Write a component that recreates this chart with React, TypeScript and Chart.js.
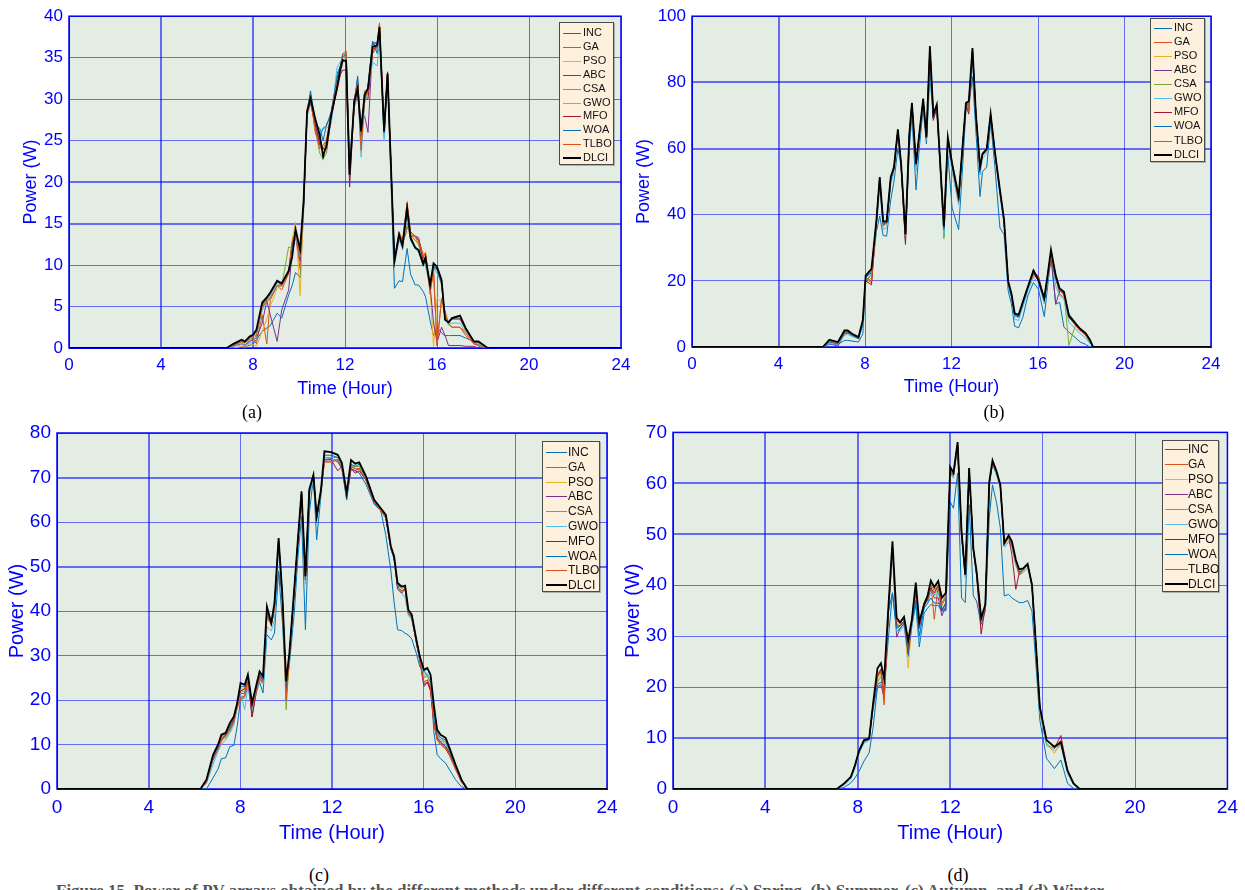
import React, { useEffect, useRef } from 'react';
import { Chart, registerables } from 'chart.js';

Chart.register(...registerables);

// ---------- shared ----------
const methodNames = ['INC', 'GA', 'PSO', 'ABC', 'CSA', 'GWO', 'MFO', 'WOA', 'TLBO', 'DLCI'];
const methodColors = ['#0072BD', '#D95319', '#EDB120', '#7E2F8E', '#77AC30', '#4DBEEE', '#A2142F', '#0072BD', '#D95319', '#000000'];
const xTickStep = 4;
const xTitle = 'Time (Hour)';
const yTitle = 'Power (W)';

// ---------- panel (a) ----------
const hoursA = [0, 6.85, 7.15, 7.5, 7.65, 7.85, 8.0, 8.15, 8.4, 8.6, 8.75, 9.05, 9.25, 9.55, 9.7, 9.85, 10.05, 10.2, 10.35, 10.5, 10.7, 10.9, 11.05, 11.2, 11.4, 11.65, 11.8, 11.9, 12.05, 12.2, 12.4, 12.55, 12.7, 12.85, 13.0, 13.2, 13.4, 13.5, 13.7, 13.85, 14.15, 14.35, 14.5, 14.7, 14.85, 15.05, 15.2, 15.4, 15.5, 15.7, 15.85, 16.0, 16.2, 16.35, 16.5, 16.65, 17.0, 17.25, 17.6, 17.8, 18.2, 24];
const incA = [0,0,0,0.1,0.2,0.3,0.5,1.0,2.0,2.4, 2.7,4.2,3.6,6.4,7.5,9.1,8.5,16.5,28.0,30.5, 27.0,26.5,25.0,27.0,28.0,33.0,34.0,35.0,35.2,21.5, 29.0,32.8,24.5,30.0,31.5,37.0,35.5,38.5,25.5,33.0, 7.2,8.1,8.0,12.0,8.9,7.6,7.6,6.8,6.2,3.3, 1.5,2.5,1.8,1.5,1.5,1.5,1.5,1.2,0.8,0.2, 0,0];
const gaA = [0,0,0.3,0.7,0.3,1.0,1.2,0.5,4.0,0.5, 5.8,7.5,7.0,9.0,12.5,13.5,9.5,17.0,28.8,30.5, 26.0,24.5,24.0,25.0,28.5,32.0,34.0,35.5,35.8,21.0, 30.0,32.0,24.0,31.0,31.0,35.5,36.8,39.2,26.5,33.2, 10.8,14.0,13.0,17.5,14.0,13.5,12.5,11.0,11.5,7.0, 9.0,0.3,6.0,4.0,2.8,2.5,2.5,1.5,0.5,0.3, 0,0];
const psoA = [0,0,0,0.2,0.1,0.5,0.4,0.2,2.0,3.5, 5.0,7.2,7.5,9.5,13.0,15.2,6.3,17.5,28.2,30.8, 26.5,25.0,24.0,25.5,28.0,32.5,33.5,35.0,35.2,22.0, 29.5,30.5,25.0,29.5,30.5,35.8,36.0,38.8,26.0,32.8, 10.2,13.5,12.8,14.0,14.0,13.0,12.8,11.5,10.0,7.0, 0.2,6.0,5.5,3.8,2.8,2.5,2.5,2.0,0.8,0.3, 0,0];
const abcA = [0,0,0.2,0.5,0.3,0.8,1.0,1.2,3.0,5.7, 4.0,0.8,4.6,7.0,11.5,13.5,10.5,17.0,28.0,29.5, 27.0,25.0,24.0,24.0,27.5,31.5,33.0,34.5,34.8,21.5, 29.0,30.5,27.5,28.0,26.0,36.5,36.8,38.5,26.5,33.0, 10.5,13.0,12.5,14.5,14.0,13.5,13.3,11.0,10.5,7.5, 3.0,0.7,2.5,1.5,0.3,0.3,0.3,0.2,0.2,0, 0,0];
const csaA = [0,0,0.3,0.8,0.6,1.2,1.4,1.8,5.0,5.8, 6.2,7.5,7.5,12.2,12.0,14.0,11.5,17.5,28.5,30.5, 26.5,23.5,22.8,23.5,28.0,31.5,33.2,34.5,34.5,21.5, 29.5,31.0,26.0,30.8,31.0,35.8,36.2,38.2,26.0,33.0, 10.5,13.5,12.5,14.8,13.5,13.0,12.5,10.5,10.5,7.5, 9.5,9.5,7.5,4.0,3.0,3.5,3.5,2.2,0.7,0.6, 0,0];
const gwoA = [0,0,0.2,0.4,0.3,0.6,0.8,1.5,4.5,5.5, 6.0,7.8,7.5,9.5,12.0,13.5,11.0,17.0,28.0,29.8, 27.5,26.0,26.5,26.5,27.0,33.8,34.5,35.0,35.3,22.5, 29.0,31.5,23.0,29.5,30.8,34.5,34.0,37.5,25.0,32.5, 10.0,13.0,12.0,16.0,13.0,12.0,11.5,10.0,10.0,7.2, 9.8,9.0,7.8,3.5,2.8,3.0,3.0,2.0,0.6,0.5, 0,0];
const mfoA = [0,0,0.4,0.9,0.6,1.2,1.5,2.0,5.2,5.9, 6.5,8.0,7.6,9.0,12.5,14.0,11.5,17.5,28.3,29.8, 27.0,24.5,24.0,24.0,28.0,31.0,33.0,33.5,33.5,19.4, 29.5,31.0,26.5,30.0,30.0,36.0,36.3,38.5,26.0,33.3, 10.5,13.5,12.5,16.5,13.5,13.5,13.0,10.5,11.0,7.5, 9.8,9.5,7.8,3.5,3.0,3.5,3.5,2.2,0.7,0.7, 0,0];
const woaA = [0,0,0.4,0.9,0.7,1.3,1.5,2.0,5.3,6.0, 6.5,8.0,7.7,9.2,12.5,14.0,11.8,17.5,28.5,31.0, 27.5,25.5,26.5,26.8,28.5,32.5,34.0,35.3,35.5,20.5, 29.8,32.5,25.5,30.2,31.5,36.8,36.8,38.0,26.0,33.0, 10.5,13.3,12.3,16.5,13.0,12.2,11.8,10.0,10.5,7.5, 10.0,9.5,8.0,3.4,3.0,3.5,3.8,2.3,0.8,0.7, 0,0];
const tlboA = [0,0,0.3,0.8,0.6,1.2,1.4,1.5,5.0,5.5, 6.0,7.5,7.5,9.0,12.8,14.0,11.0,17.5,28.2,29.8, 26.5,24.0,24.5,25.0,28.3,31.8,33.5,35.0,35.5,21.0, 29.8,32.0,23.8,30.0,31.0,35.5,36.2,39.0,26.2,33.0, 10.5,13.8,12.8,17.5,14.0,13.5,13.0,11.0,11.5,6.5, 9.5,0.3,6.0,4.5,3.0,2.5,2.5,1.8,0.5,0.4, 0,0];
const dlciA = [0,0,0.5,1.0,0.8,1.4,1.6,2.2,5.5,6.1, 6.7,8.1,7.8,9.3,10.9,14.3,11.9,17.7,28.5,30.1, 27.7,25.7,23.1,24.5,28.1,31.3,33.7,34.7,34.6,20.9, 29.7,31.3,26.1,30.5,31.3,36.3,36.5,38.7,26.1,33.1, 10.5,13.7,12.3,16.9,13.3,12.1,11.8,10.1,10.9,7.6, 10.2,9.8,8.2,3.4,3.1,3.6,3.9,2.4,0.8,0.8, 0,0];

// ---------- panel (b) ----------
const hoursB = [0, 6.05, 6.35, 6.75, 7.05, 7.2, 7.4, 7.7, 7.9, 8.03, 8.3, 8.53, 8.68, 8.84, 9.0, 9.19, 9.34, 9.52, 9.67, 9.87, 10.05, 10.17, 10.36, 10.51, 10.69, 10.84, 11.0, 11.16, 11.32, 11.65, 11.83, 12.03, 12.33, 12.52, 12.67, 12.8, 12.97, 13.13, 13.32, 13.43, 13.63, 13.81, 14.0, 14.24, 14.43, 14.62, 14.77, 14.92, 15.1, 15.3, 15.53, 15.79, 16.02, 16.29, 16.44, 16.6, 16.82, 17.0, 17.2, 17.43, 17.73, 17.95, 18.2, 18.4, 18.55, 24];
const incB = [0,0,0.8,0.8,2.0,2.0,1.8,1.5,4.0,19.5, 22.0,35.0,39.6,33.7,33.5,44.5,50.0,60.0,55.0,32.0, 60.0,70.0,47.5,60.0,72.0,61.4,82.0,69.0,72.0,33.6, 58.0,42.0,35.5,55.0,72.0,73.0,81.7,65.0,45.5,53.0, 54.4,68.0,55.0,36.0,34.0,17.0,13.0,6.3,5.8,9.0, 15.5,19.5,17.5,9.2,18.0,27.0,13.0,13.5,6.0,4.5, 2.8,1.5,0.8,0,0,0];
const gaB = [0,0,1.8,1.2,4.5,4.6,3.8,2.8,7.5,20.5, 19.5,37.5,50.0,36.5,37.5,50.5,53.5,65.0,55.0,33.0, 63.5,73.0,55.0,63.5,74.0,63.0,90.0,69.5,72.5,37.0, 62.5,55.0,44.5,61.0,73.0,71.5,89.5,70.0,53.0,58.0, 59.5,70.0,59.0,47.0,38.0,19.0,16.0,9.5,9.0,13.0, 18.0,21.5,21.0,14.0,20.5,27.0,21.0,16.0,15.0,9.0, 6.5,5.0,3.5,1.5,0,0];
const psoB = [0,0,1.5,1.0,4.2,4.5,3.5,2.5,7.0,19.0, 21.0,37.0,49.5,37.0,37.0,50.0,54.0,65.0,55.0,33.5, 64.0,73.5,55.0,64.0,74.5,63.0,90.5,70.0,73.0,35.5, 63.0,55.0,45.0,61.0,73.5,73.5,90.0,70.0,54.0,58.0, 59.5,70.0,59.0,47.0,38.0,19.5,16.0,10.0,9.5,13.5, 18.0,22.0,20.0,14.5,21.0,28.5,21.0,17.0,16.0,9.0, 6.8,5.2,3.8,1.8,0,0];
const abcB = [0,0,1.0,0.3,4.0,4.3,3.8,2.8,7.8,21.0, 22.5,38.0,51.0,37.5,37.5,51.0,54.0,65.5,55.0,33.5, 64.0,73.5,55.0,64.0,74.5,63.0,90.5,70.0,73.0,36.0, 63.0,55.0,45.0,61.0,73.5,73.0,90.0,70.0,54.0,58.0, 59.5,70.0,59.0,47.0,38.0,19.5,16.0,10.0,9.5,13.5, 18.0,22.5,20.5,14.5,21.0,28.0,12.9,17.0,16.0,9.0, 6.8,5.0,3.8,1.8,0,0];
const csaB = [0,0,1.6,1.0,4.5,4.6,3.8,2.8,8.0,21.0, 23.0,38.0,51.0,37.5,37.5,51.0,54.0,65.5,55.0,33.5, 64.0,73.5,55.0,64.0,74.8,63.0,90.5,70.0,73.0,32.7, 63.0,56.0,45.5,61.0,73.5,73.0,90.0,70.0,54.0,58.0, 59.5,70.0,59.0,47.0,38.0,19.5,16.0,10.0,9.5,13.5, 18.0,23.5,20.5,14.5,21.5,29.0,22.0,17.5,16.5,0.5, 6.5,5.0,3.8,1.5,0,0];
const gwoB = [0,0,1.0,0.8,3.5,3.8,3.2,2.5,6.5,20.0, 22.0,36.0,48.0,35.5,36.0,49.0,53.0,64.0,54.0,33.0, 63.0,72.5,53.0,63.0,74.0,62.5,85.0,69.5,72.5,34.0, 61.0,53.0,43.0,60.0,73.0,72.5,86.0,69.0,52.0,57.0, 58.5,69.5,58.0,45.5,37.0,18.0,15.0,8.5,8.0,12.0, 17.0,21.0,19.5,13.0,20.0,27.5,18.5,15.5,14.5,7.5, 5.5,4.0,2.8,1.0,0,0];
const mfoB = [0,0,1.8,1.2,4.5,4.6,3.8,2.8,7.8,20.0, 18.8,38.0,50.5,37.0,37.5,50.5,54.0,65.5,55.0,31.0, 64.0,73.5,55.0,64.0,74.5,63.0,90.0,68.5,72.5,36.0, 63.0,55.0,44.5,61.0,73.0,70.4,89.5,70.0,54.0,58.0, 59.5,70.0,59.0,47.0,38.0,19.5,16.0,10.0,9.5,13.5, 18.0,22.5,21.5,14.5,21.0,26.5,21.0,17.0,16.0,9.0, 6.8,5.0,3.8,1.8,0,0];
const woaB = [0,0,1.5,1.0,4.0,4.2,3.5,2.5,7.0,21.0, 23.0,38.0,51.0,37.5,37.5,51.0,54.0,65.5,55.0,33.5, 64.0,73.5,55.0,64.0,74.5,63.0,88.0,70.0,73.0,35.5, 63.0,55.0,45.0,61.0,73.5,73.5,88.5,70.0,54.0,58.0, 59.5,70.0,59.0,46.5,38.0,19.0,15.5,9.5,9.0,13.0, 17.5,22.5,20.0,14.0,21.0,28.5,20.5,17.0,16.5,10.0, 7.5,5.5,4.0,1.5,0,0];
const tlboB = [0,0,1.8,1.2,4.5,4.6,3.8,2.8,7.8,21.0, 20.0,38.0,50.5,37.0,37.5,50.5,54.0,65.5,55.0,33.5, 64.0,73.5,55.0,64.0,74.5,63.0,90.0,70.0,73.0,37.0, 63.0,55.0,44.0,61.0,73.5,72.5,90.0,70.0,53.5,58.0, 59.5,70.0,59.0,47.0,38.0,19.5,16.0,10.0,9.5,13.5, 18.0,22.0,21.0,14.0,21.0,27.5,21.0,17.0,16.0,9.0, 6.8,5.0,3.8,1.8,0,0];
const dlciB = [0,0,2.2,1.5,5.0,5.0,4.0,3.0,8.2,21.6, 23.6,38.5,51.4,38.0,38.0,51.4,54.4,65.8,55.4,34.1, 64.4,73.8,55.4,64.4,75.1,63.4,91.0,70.3,73.3,36.5, 63.4,55.4,45.5,61.4,73.8,74.3,90.4,70.3,54.4,58.4, 59.9,70.5,59.4,47.5,38.5,19.9,16.2,10.2,9.7,13.7, 18.2,23.1,20.2,14.7,21.6,29.4,21.6,17.7,16.7,9.5, 7.1,5.5,4.2,2.2,0,0];

// ---------- panel (c) ----------
const hoursC = [0, 6.26, 6.52, 6.81, 7.03, 7.17, 7.36, 7.54, 7.72, 7.86, 8.01, 8.19, 8.33, 8.51, 8.7, 8.84, 8.99, 9.16, 9.35, 9.49, 9.67, 9.83, 10.0, 10.14, 10.36, 10.51, 10.67, 10.84, 11.01, 11.19, 11.33, 11.52, 11.67, 11.96, 12.25, 12.43, 12.64, 12.83, 13.01, 13.19, 13.48, 13.84, 14.13, 14.35, 14.57, 14.71, 14.86, 15.04, 15.19, 15.33, 15.48, 15.68, 15.83, 16.01, 16.16, 16.3, 16.45, 16.59, 16.74, 16.96, 17.13, 17.39, 17.65, 17.9, 24];
const incC = [0,0,0,2.5,4.5,6.8,7.0,9.5,9.8,14.0, 20.0,21.0,23.0,20.0,22.0,24.0,21.6,34.7,33.5,35.0, 48.9,38.0,22.0,28.0,40.0,52.0,61.3,35.8,62.0,70.0, 56.0,66.0,74.5,74.3,73.5,72.0,65.0,72.0,71.5,71.0, 68.5,64.0,62.5,57.0,49.0,42.0,35.8,35.6,35.0,34.6, 33.7,30.5,27.5,26.5,25.5,23.5,12.6,7.7,6.8,5.8, 4.3,2.1,0.5,0,0];
const gaC = [0,0,1.5,7.0,9.0,10.5,12.5,13.0,15.0,18.0, 20.0,20.5,24.0,18.0,22.0,24.5,24.0,38.5,37.0,40.0, 55.0,43.0,20.0,29.5,45.0,55.5,66.0,47.0,66.5,70.0, 61.0,67.0,73.5,73.5,74.0,72.5,66.0,72.5,72.0,72.0, 69.5,64.5,62.5,61.0,54.0,52.0,45.5,44.5,45.0,39.5, 38.5,33.0,29.0,24.0,24.5,22.5,14.5,11.0,10.0,9.0, 7.5,4.5,1.5,0,0];
const psoC = [0,0,1.8,7.2,9.5,11.0,12.0,13.5,15.5,18.5, 22.5,22.5,25.0,19.0,22.5,25.5,24.5,39.5,36.5,40.5, 55.5,43.5,21.0,30.0,45.0,55.5,66.5,47.5,67.0,70.3, 61.0,67.0,74.5,74.5,74.5,73.0,66.0,72.5,72.5,72.5, 70.0,65.0,63.0,61.5,54.0,52.0,46.0,45.0,45.5,40.0, 39.0,33.5,29.5,25.0,25.5,23.5,16.0,12.5,11.5,10.5, 8.5,5.0,2.0,0,0];
const abcC = [0,0,1.5,6.5,9.0,11.0,12.0,13.5,15.0,18.5, 21.5,21.5,24.5,16.2,22.0,25.0,24.0,39.0,37.0,40.5, 56.0,43.5,22.0,30.0,45.0,55.5,66.5,47.5,67.0,70.3, 61.0,67.0,74.0,74.0,74.0,72.0,66.0,72.0,71.5,72.0, 69.5,64.5,62.5,61.0,54.0,52.0,45.5,44.5,45.0,39.5, 38.5,33.0,29.0,23.0,24.0,22.5,15.0,11.5,10.5,9.5, 8.0,5.0,2.0,0,0];
const csaC = [0,0,1.8,7.0,9.5,11.0,11.5,13.0,15.5,19.0, 22.0,22.0,25.0,19.0,22.5,25.5,24.5,39.5,37.0,41.0, 55.5,43.5,17.8,30.0,45.0,55.5,66.5,47.5,67.0,70.5, 61.0,67.0,74.5,74.5,74.5,73.0,66.0,72.5,72.5,72.5, 70.0,65.0,63.0,61.5,54.0,52.0,46.0,45.0,45.5,40.0, 39.0,33.5,29.5,25.0,25.5,24.0,15.5,12.0,11.0,10.5, 8.5,5.0,2.0,0,0];
const gwoC = [0,0,1.2,5.5,8.5,10.0,11.0,12.5,14.5,18.5, 21.5,17.8,23.0,17.5,21.5,24.5,23.5,36.5,35.5,38.0, 54.0,42.5,23.0,29.5,44.0,54.5,65.5,46.0,66.0,69.5, 60.0,66.5,74.0,74.0,74.0,72.5,65.5,72.5,72.0,72.0, 69.5,64.5,62.5,61.0,54.0,51.5,45.0,44.0,43.0,39.0, 38.0,33.0,29.0,25.5,26.0,24.5,16.0,12.0,11.0,10.0, 8.0,4.5,1.8,0,0];
const mfoC = [0,0,1.8,7.2,9.5,11.5,12.0,14.0,15.5,19.0, 22.0,22.5,25.0,16.2,22.0,25.5,24.5,40.0,37.0,41.0, 56.2,43.5,22.5,30.0,45.0,55.5,66.5,47.5,67.0,70.5, 61.0,67.0,74.0,74.0,71.5,72.5,66.0,72.0,71.0,71.5, 69.5,64.5,62.5,61.0,54.0,52.0,45.0,44.0,45.0,39.5, 38.5,33.0,29.0,23.5,24.0,22.0,15.0,11.5,10.5,9.5, 8.0,4.5,1.8,0,0];
const woaC = [0,0,1.8,7.0,9.5,12.0,12.3,14.0,16.0,19.0, 23.0,23.0,25.5,19.0,23.0,26.0,24.5,40.0,37.0,41.0, 49.0,43.5,23.5,30.0,45.0,55.5,66.5,47.0,67.0,70.5, 61.0,67.0,75.0,75.0,74.5,73.0,65.0,73.0,72.5,73.0, 70.0,65.0,63.0,61.5,54.0,52.0,45.5,45.5,45.5,40.0, 39.0,33.5,29.5,26.5,27.0,25.5,17.0,12.5,11.5,11.0, 8.8,5.2,2.0,0,0];
const tlboC = [0,0,1.5,7.0,9.0,11.0,12.5,13.5,15.0,18.5, 20.5,21.0,24.5,18.5,22.0,25.0,24.0,39.0,37.0,40.5, 55.5,43.0,20.0,30.0,45.0,55.5,66.5,47.5,67.0,70.3, 61.0,67.0,73.5,73.5,74.0,72.5,66.0,72.5,72.0,72.0, 69.5,64.5,62.5,61.0,54.0,52.0,45.5,44.5,45.0,39.5, 38.5,33.0,29.0,24.0,24.5,23.0,14.5,11.0,10.0,9.0, 7.5,4.5,1.5,0,0];
const dlciC = [0,0,2.1,7.7,10.0,12.2,12.6,14.8,16.3,19.3, 23.8,23.4,25.7,19.3,23.4,26.4,25.3,41.0,37.3,41.8, 56.4,44.0,24.2,30.6,45.5,56.0,66.9,47.8,67.3,70.6, 61.3,67.3,75.9,75.7,75.1,73.3,66.5,73.9,73.1,73.4, 70.3,65.0,63.1,61.6,54.5,52.3,46.3,45.5,45.7,40.3, 39.2,33.6,29.8,26.8,27.2,25.7,18.6,13.3,12.2,11.5, 9.2,5.5,2.1,0,0];

// ---------- panel (d) ----------
const hoursD = [0, 7.09, 7.41, 7.7, 7.88, 8.06, 8.27, 8.49, 8.66, 8.85, 9.0, 9.14, 9.33, 9.5, 9.68, 9.83, 10.0, 10.18, 10.34, 10.51, 10.66, 10.87, 11.02, 11.16, 11.31, 11.48, 11.64, 11.81, 12.0, 12.14, 12.32, 12.49, 12.65, 12.82, 13.0, 13.14, 13.34, 13.52, 13.69, 13.83, 14.01, 14.17, 14.34, 14.53, 14.67, 14.84, 14.99, 15.16, 15.35, 15.54, 15.71, 15.88, 16.17, 16.51, 16.79, 17.08, 17.34, 17.6, 24];
const incD = [0,0,0.3,1.2,2.2,3.5,5.5,7.1,12.0,20.0, 20.0,19.5,30.0,38.5,31.0,31.5,32.5,26.0,32.0,36.2, 27.9,34.5,35.5,36.2,36.0,36.0,34.9,35.0,56.4,55.1, 62.0,37.5,36.6,55.8,37.9,36.9,32.3,35.0,53.2,59.7, 56.1,51.2,37.9,38.2,37.5,37.0,36.6,36.6,37.0,34.9, 24.5,13.5,6.0,4.0,5.7,1.1,0.1,0,0];
const gaD = [0,0,1.1,2.4,4.7,7.6,9.5,9.8,16.5,22.5, 23.5,16.5,35.5,47.5,32.5,32.0,33.0,27.0,32.5,39.5, 32.0,36.5,38.0,40.5,33.3,40.0,36.5,38.0,62.5,61.5, 67.5,50.0,42.0,62.5,47.0,42.5,33.0,36.0,60.0,64.0, 62.0,59.5,48.0,49.5,48.0,44.0,42.5,43.0,44.0,40.0, 28.0,16.0,9.5,8.0,9.5,3.5,1.0,0,0];
const psoD = [0,0,1.0,2.3,4.5,7.5,9.5,9.8,16.0,21.5, 22.5,20.5,35.0,47.0,32.0,32.5,33.5,23.7,32.5,38.5, 33.5,36.0,37.0,39.0,38.5,39.5,36.5,37.5,62.5,61.5, 67.5,50.0,42.0,62.5,47.0,42.5,33.0,36.0,60.0,64.0, 62.0,59.5,48.0,49.0,48.0,44.0,42.0,42.5,43.5,40.0, 28.0,15.5,9.0,7.0,9.0,3.5,1.0,0,0];
const abcD = [0,0,1.0,2.3,4.5,7.5,9.5,9.8,16.0,20.0, 20.5,18.0,35.0,47.0,29.8,31.5,32.5,26.5,32.5,38.5, 31.5,36.0,37.5,39.5,37.5,37.5,34.0,36.0,62.5,61.5, 67.5,50.0,42.0,62.5,47.0,42.5,33.0,36.0,60.0,64.0, 62.0,59.5,48.0,49.5,48.5,44.5,42.5,43.0,44.0,40.0, 28.0,16.0,9.5,8.0,9.0,3.5,1.0,0,0];
const csaD = [0,0,1.0,2.3,4.5,7.5,9.5,9.8,16.5,21.0, 22.0,20.5,35.5,47.5,31.5,32.0,33.0,27.5,33.0,39.0, 32.5,36.5,38.0,39.5,38.0,39.5,36.0,37.5,62.5,61.5, 67.5,50.0,42.0,62.5,47.0,42.5,33.0,36.0,60.0,64.0, 62.0,59.5,47.5,48.5,48.0,44.5,42.5,43.0,44.0,40.0, 28.0,15.0,8.5,8.0,9.0,3.5,1.0,0,0];
const gwoD = [0,0,0.8,2.0,4.0,7.0,9.0,9.5,15.5,20.5, 21.0,19.5,34.5,46.5,31.0,31.0,32.0,28.0,32.0,37.5, 29.0,35.5,36.5,38.5,38.0,38.5,35.5,36.5,62.0,61.0, 67.0,49.5,41.5,62.0,46.5,42.0,33.0,35.5,59.5,63.5, 61.5,59.0,47.5,48.5,47.5,44.0,42.0,42.5,43.5,39.5, 27.5,15.0,9.0,7.5,8.5,3.0,0.8,0,0];
const mfoD = [0,0,1.0,2.4,4.7,7.5,9.5,9.8,16.5,22.0, 23.5,18.0,35.5,48.0,32.0,32.0,33.0,27.5,33.0,39.0, 32.5,36.5,37.0,39.5,38.5,40.0,35.0,36.5,63.0,62.0, 68.0,50.5,42.0,63.0,47.0,42.0,30.4,36.0,60.0,64.0, 62.0,59.5,48.0,49.5,46.0,39.2,42.5,43.0,44.0,40.0, 28.0,16.0,9.5,8.0,10.5,3.5,1.0,0,0];
const woaD = [0,0,0.9,2.2,4.5,7.3,9.3,9.7,16.0,20.5, 21.0,20.0,35.0,38.5,31.5,32.0,33.0,27.0,32.5,37.0, 30.0,35.5,36.5,37.5,36.5,36.5,35.5,35.0,62.0,61.5, 67.5,50.0,42.0,62.5,47.0,42.5,33.0,36.0,60.0,64.0, 62.0,59.5,48.0,49.5,48.0,44.5,42.5,43.0,44.0,40.0, 28.0,16.0,9.5,8.0,9.0,3.5,1.0,0,0];
const tlboD = [0,0,1.0,2.3,4.6,7.5,9.5,9.8,16.5,22.0, 23.0,17.5,35.5,47.5,33.0,32.5,33.5,28.0,33.0,40.0, 32.5,36.5,37.5,40.0,39.0,40.0,36.5,37.5,62.5,61.5, 67.5,50.0,42.0,62.5,47.0,42.5,33.0,36.0,60.0,64.0, 62.0,59.5,48.0,49.5,48.0,44.5,42.0,43.0,44.0,40.0, 28.0,15.5,9.5,8.0,9.5,3.5,1.0,0,0];
const dlciD = [0,0,1.1,2.4,4.7,7.6,9.6,9.9,16.7,23.7, 24.7,21.6,36.2,48.6,33.6,32.7,33.8,29.1,33.3,40.5, 32.7,36.2,37.9,40.9,39.6,40.8,37.5,38.5,63.2,62.1, 68.1,50.6,42.1,63.0,47.3,42.7,33.6,36.2,60.3,64.5, 62.3,59.7,48.3,49.8,48.6,45.0,43.1,43.3,44.2,40.1, 28.4,16.1,9.6,8.3,9.2,3.6,1.1,0,0];

const figureCaption = 'Figure 15. Power of PV arrays obtained by the different methods under different conditions: (a) Spring, (b) Summer, (c) Autumn, and (d) Winter.';

// ---------- styling / layout ----------
const FONT = '"Liberation Sans", Arial, Helvetica, sans-serif';
const AXIS_BLUE = '#0000ff';
const GRID_COLOR = 'rgba(0, 0, 255, 0.55)';
const PLOT_BG = '#e3ede3';

type PanelCfg = {
  hours: number[];
  series: number[][];
  yMax: number;
  yStep: number;
  canvas: { left: number; top: number; width: number; height: number };
  plot: { left: number; top: number; right: number; bottom: number };
  tickFont: number;
  titleFont: number;
  tickPad: number;
  yTitleX: number;
  xTitleY: number;
  thickX: number[];
  thickY: number[];
  legend: { left: number; top: number; width: number; height: number; first: number; rowH: number; font: number; lineL: number; lineW: number; textL: number };
  caption: { text: string; x: number; y: number };
};

const panels: PanelCfg[] = [
  {
    hours: hoursA,
    series: [incA, gaA, psoA, abcA, csaA, gwoA, mfoA, woaA, tlboA, dlciA],
    yMax: 40, yStep: 5,
    canvas: { left: 0, top: 0, width: 640, height: 420 },
    plot: { left: 69, top: 14, right: 621, bottom: 348 },
    tickFont: 17, titleFont: 18, tickPad: 7, yTitleX: 31, xTitleY: 389,
    thickX: [4, 8], thickY: [15, 20],
    legend: { left: 559, top: 22, width: 55, height: 143, first: 10, rowH: 13.9, font: 11, lineL: 3, lineW: 18, textL: 23 },
    caption: { text: '(a)', x: 252, y: 412 },
  },
  {
    hours: hoursB,
    series: [incB, gaB, psoB, abcB, csaB, gwoB, mfoB, woaB, tlboB, dlciB],
    yMax: 100, yStep: 20,
    canvas: { left: 622, top: 0, width: 608, height: 420 },
    plot: { left: 692, top: 12, right: 1211, bottom: 347 },
    tickFont: 17, titleFont: 18, tickPad: 7, yTitleX: 644, xTitleY: 387,
    thickX: [4], thickY: [60, 80],
    legend: { left: 1150, top: 18, width: 55, height: 144, first: 8.7, rowH: 14.1, font: 11, lineL: 3, lineW: 18, textL: 23 },
    caption: { text: '(b)', x: 994, y: 412 },
  },
  {
    hours: hoursC,
    series: [incC, gaC, psoC, abcC, csaC, gwoC, mfoC, woaC, tlboC, dlciC],
    yMax: 80, yStep: 10,
    canvas: { left: 0, top: 415, width: 625, height: 435 },
    plot: { left: 57, top: 433, right: 607, bottom: 789 },
    tickFont: 19, titleFont: 20, tickPad: 7, yTitleX: 17, xTitleY: 833,
    thickX: [4, 12], thickY: [50, 70],
    legend: { left: 542, top: 441, width: 58, height: 151, first: 10, rowH: 14.8, font: 12, lineL: 3, lineW: 21, textL: 25 },
    caption: { text: '(c)', x: 319, y: 875 },
  },
  {
    hours: hoursD,
    series: [incD, gaD, psoD, abcD, csaD, gwoD, mfoD, woaD, tlboD, dlciD],
    yMax: 70, yStep: 10,
    canvas: { left: 618, top: 415, width: 627, height: 435 },
    plot: { left: 673, top: 432, right: 1230, bottom: 789 },
    tickFont: 19, titleFont: 20, tickPad: 7, yTitleX: 633, xTitleY: 833,
    thickX: [4, 8, 12], thickY: [10, 50, 60],
    legend: { left: 1162, top: 440, width: 57, height: 152, first: 8, rowH: 15, font: 12, lineL: 2, lineW: 23, textL: 25 },
    caption: { text: '(d)', x: 958, y: 875 },
  },
];

const plotFrame = {
  id: 'plotFrame',
  beforeDraw(chart: any) {
    const { ctx, chartArea } = chart;
    ctx.save();
    ctx.fillStyle = PLOT_BG;
    ctx.fillRect(chartArea.left, chartArea.top, chartArea.right - chartArea.left, chartArea.bottom - chartArea.top);
    ctx.restore();
  },
  beforeDatasetsDraw(chart: any) {
    const { ctx, chartArea } = chart;
    ctx.save();
    ctx.strokeStyle = AXIS_BLUE;
    ctx.lineWidth = 1.5;
    ctx.strokeRect(chartArea.left, chartArea.top, chartArea.right - chartArea.left, chartArea.bottom - chartArea.top);
    ctx.restore();
  },
};

function PanelChart({ cfg }: { cfg: PanelCfg }) {
  const ref = useRef<HTMLCanvasElement | null>(null);

  useEffect(() => {
    if (!ref.current) return;
    const c = cfg.canvas;
    const p = cfg.plot;
    const yW = p.left - c.left;
    const xH = c.top + c.height - p.bottom;
    const lh = cfg.titleFont * 1.2;
    const yTitlePad = Math.max(0, cfg.yTitleX - c.left - lh / 2);
    const xTitlePad = Math.max(0, c.top + c.height - cfg.xTitleY - lh / 2);

    const datasets = methodNames.map((name, i) => ({
      label: name,
      data: cfg.hours.map((h, k) => ({ x: h, y: cfg.series[i][k] })),
      borderColor: methodColors[i],
      backgroundColor: methodColors[i],
      borderWidth: name === 'DLCI' ? 1.8 : 1,
      pointRadius: 0,
      tension: 0,
      fill: false,
      order: methodNames.length - 1 - i,
    }));

    const chart = new Chart(ref.current, {
      type: 'line',
      data: { datasets },
      plugins: [plotFrame],
      options: {
        animation: false,
        responsive: false,
        devicePixelRatio: 1,
        layout: { padding: { top: p.top - c.top, right: c.left + c.width - p.right, bottom: 0, left: 0 } },
        plugins: { legend: { display: false }, tooltip: { enabled: false }, title: { display: false } },
        elements: { point: { radius: 0 } },
        scales: {
          x: {
            type: 'linear',
            min: 0,
            max: 24,
            afterFit: (s: any) => { s.height = xH; },
            ticks: { stepSize: xTickStep, color: AXIS_BLUE, font: { family: FONT, size: cfg.tickFont }, padding: cfg.tickPad, maxRotation: 0, autoSkip: false },
            grid: { color: GRID_COLOR, lineWidth: (ctx: any) => (ctx.tick && cfg.thickX.includes(ctx.tick.value) ? 2 : 1), drawTicks: false },
            border: { display: true, color: AXIS_BLUE, width: 1 },
            title: { display: true, text: xTitle, color: AXIS_BLUE, font: { family: FONT, size: cfg.titleFont }, padding: { top: 0, bottom: xTitlePad } },
          },
          y: {
            min: 0,
            max: cfg.yMax,
            afterFit: (s: any) => { s.width = yW; },
            ticks: { stepSize: cfg.yStep, color: AXIS_BLUE, font: { family: FONT, size: cfg.tickFont }, padding: 6 },
            grid: { color: GRID_COLOR, lineWidth: (ctx: any) => (ctx.tick && cfg.thickY.includes(ctx.tick.value) ? 2 : 1), drawTicks: false },
            border: { display: true, color: AXIS_BLUE, width: 1 },
            title: { display: true, text: yTitle, color: AXIS_BLUE, font: { family: FONT, size: cfg.titleFont }, padding: { top: yTitlePad, bottom: 0 } },
          },
        },
      } as any,
    });
    return () => chart.destroy();
  }, [cfg]);

  const c = cfg.canvas;
  const L = cfg.legend;
  return (
    <>
      <canvas
        ref={ref}
        width={c.width}
        height={c.height}
        style={{ position: 'absolute', left: c.left, top: c.top, width: c.width, height: c.height }}
      />
      <div
        style={{
          position: 'absolute', left: L.left, top: L.top, width: L.width, height: L.height,
          background: '#fdf0dc', border: '1px solid #4a4a4a', boxSizing: 'border-box',
          boxShadow: '1px 1px 0 rgba(0,0,0,0.25)', fontFamily: FONT, fontSize: L.font, color: '#111',
        }}
      >
        {methodNames.map((n, i) => {
          const cy = Math.round(L.first + i * L.rowH);
          const lh = L.font * 1.2;
          const thick = n === 'DLCI' ? 2 : 1;
          return (
            <React.Fragment key={n}>
              <div style={{ position: 'absolute', left: L.lineL, top: cy - (thick === 2 ? 1 : 0), width: L.lineW, height: thick, background: methodColors[i] }} />
              <div style={{ position: 'absolute', left: L.textL, top: Math.round(cy - lh / 2), lineHeight: `${lh}px`, whiteSpace: 'nowrap' }}>{n}</div>
            </React.Fragment>
          );
        })}
      </div>
      <div
        style={{
          position: 'absolute', left: cfg.caption.x - 40, top: cfg.caption.y - 11, width: 80, textAlign: 'center',
          fontFamily: '"Liberation Serif", "Times New Roman", serif', fontSize: 18, lineHeight: '22px', color: '#000',
        }}
      >
        {cfg.caption.text}
      </div>
    </>
  );
}

export default function App() {
  return (
    <div style={{ position: 'absolute', left: 0, top: 0, width: 1245, height: 890, overflow: 'hidden', background: '#fff' }}>
      {panels.map((p, i) => (
        <PanelChart key={i} cfg={p} />
      ))}
      <div
        style={{
          position: 'absolute', left: 56, top: 881, whiteSpace: 'nowrap',
          fontFamily: '"Liberation Serif", "Times New Roman", serif', fontSize: 17, fontWeight: 'bold', color: '#555',
        }}
      >
        {figureCaption}
      </div>
    </div>
  );
}
